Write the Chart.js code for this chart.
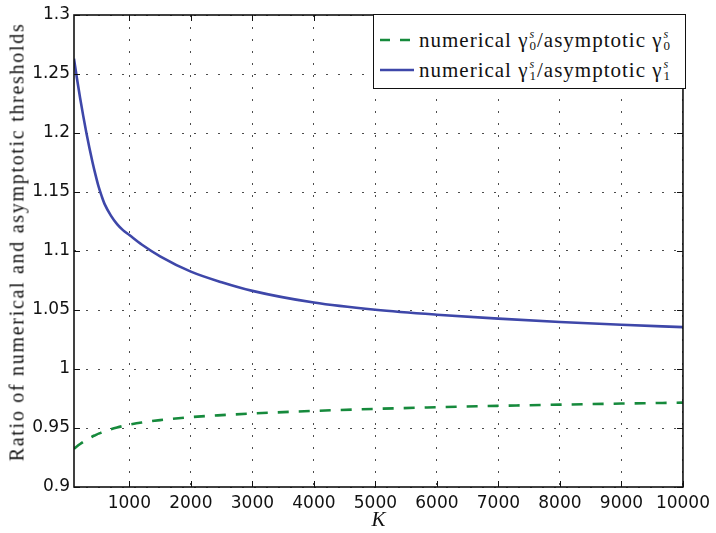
<!DOCTYPE html>
<html>
<head>
<meta charset="utf-8">
<script src="https://cdn.jsdelivr.net/npm/chart.js@4.4.1/dist/chart.umd.min.js"></script>
<style>
  html, body { margin: 0; padding: 0; background: #fff; }
  #wrap { position: relative; width: 716px; height: 533px; }
  .serif { font-family: "Liberation Serif", "Times New Roman", Times, "DejaVu Serif", serif; }
  #yTitle {
    position: absolute;
    left: 17px; top: 242px;
    transform: translate(-50%, -50%) rotate(-90deg);
    white-space: nowrap;
    font-size: 20px;
    letter-spacing: 1.7px;
    color: #111;
  }
  #legend {
    position: absolute;
    left: 373px; top: 14px;
    width: 311px; height: 73px;
    border: 1.5px solid #111;
    background: #fff;
    font-size: 21px;
    letter-spacing: 1px;
    color: #111;
  }
  .row { position: absolute; left: 6px; height: 26px; display: flex; align-items: center; white-space: nowrap; }
  .row svg { margin-right: 5px; }
  .g { font-size: 21px; }
  .ss { display: inline-flex; flex-direction: column; line-height: 11px; font-size: 13px; margin: 0 1px 0 1px; letter-spacing: 0; }
  .ss i { font-size: 12px; }
</style>
</head>
<body>
<div id="wrap">
  <canvas id="ratioChart" width="716" height="533"></canvas>
  <div id="yTitle" class="serif">Ratio of numerical and asymptotic thresholds</div>
  <div id="legend" class="serif">
    <div class="row" style="top:12px;">
      <svg width="34" height="6"><line x1="0" y1="3" x2="34" y2="3" stroke="#168a3c" stroke-width="2.6" stroke-dasharray="10 10"/></svg>
      numerical&nbsp;<span class="g">γ</span><span class="ss"><i>s</i>0</span>/asymptotic&nbsp;<span class="g">γ</span><span class="ss"><i>s</i>0</span>
    </div>
    <div class="row" style="top:42px;">
      <svg width="34" height="6"><line x1="0" y1="3" x2="34" y2="3" stroke="#3e47a9" stroke-width="2.6"/></svg>
      numerical&nbsp;<span class="g">γ</span><span class="ss"><i>s</i>1</span>/asymptotic&nbsp;<span class="g">γ</span><span class="ss"><i>s</i>1</span>
    </div>
  </div>
</div>
<script>
// ----------------------------------------
// data: ratio of numerical / asymptotic thresholds vs K
// ----------------------------------------
const kValues = [100, 150, 200, 250, 300, 350, 400, 450, 500, 550, 600, 700, 800, 900, 1000,
  1200, 1500, 2000, 2500, 3000, 4000, 5000, 6000, 7000, 8000, 9000, 10000];
const ratioGamma0 = [0.9325, 0.9345, 0.9364, 0.9382, 0.9398, 0.9413, 0.9428, 0.9440, 0.9452, 0.9462,
  0.9472, 0.9489, 0.9504, 0.9517, 0.9528, 0.9546, 0.9567, 0.9592, 0.9609, 0.9623, 0.9645, 0.9662,
  0.9676, 0.9688, 0.9698, 0.9707, 0.9715];
const ratioGamma1 = [1.263, 1.2455, 1.2295, 1.2145, 1.2005, 1.1875, 1.1755, 1.1645, 1.1545, 1.1465,
  1.1395, 1.130, 1.1228, 1.1175, 1.1135, 1.1055, 1.0955, 1.0825, 1.0735, 1.0662, 1.0563, 1.0502,
  1.046, 1.0427, 1.0398, 1.0375, 1.0355];
const xTicks = [1000, 2000, 3000, 4000, 5000, 6000, 7000, 8000, 9000, 10000];
const yTicks = [0.9, 0.95, 1, 1.05, 1.1, 1.15, 1.2, 1.25, 1.3];

const toPoints = ys => kValues.map((k, i) => ({ x: k, y: ys[i] }));

// MATLAB-style box with inward tick marks
const boxPlugin = {
  id: 'axesBox',
  afterDatasetsDraw(chart) {
    const { ctx, chartArea: a, scales: { x, y } } = chart;
    const len = 6;
    ctx.save();
    ctx.strokeStyle = '#111';
    ctx.lineWidth = 1;
    ctx.beginPath();
    x.ticks.forEach(t => {
      const px = Math.round(x.getPixelForValue(t.value)) + 0.5;
      ctx.moveTo(px, a.bottom); ctx.lineTo(px, a.bottom - len);
      ctx.moveTo(px, a.top); ctx.lineTo(px, a.top + len);
    });
    y.ticks.forEach(t => {
      const py = Math.round(y.getPixelForValue(t.value)) + 0.5;
      ctx.moveTo(a.left, py); ctx.lineTo(a.left + len, py);
      ctx.moveTo(a.right, py); ctx.lineTo(a.right - len, py);
    });
    ctx.stroke();
    ctx.lineWidth = 1.6;
    ctx.strokeRect(a.left, a.top, a.right - a.left, a.bottom - a.top);
    ctx.restore();
  },
};

const dotGrid = { color: 'rgba(0,0,0,0.7)', lineWidth: 1, drawTicks: false };
const tickFont = { family: '"DejaVu Sans", sans-serif', size: 17 };

new Chart(document.getElementById('ratioChart'), {
  type: 'line',
  data: {
    datasets: [
      {
        label: 'numerical γ0s/asymptotic γ0s',
        data: toPoints(ratioGamma0),
        borderColor: '#168a3c',
        borderWidth: 2.6,
        borderDash: [11, 10],
        pointRadius: 0,
        cubicInterpolationMode: 'monotone',
        fill: false,
      },
      {
        label: 'numerical γ1s/asymptotic γ1s',
        data: toPoints(ratioGamma1),
        borderColor: '#3e47a9',
        borderWidth: 2.6,
        pointRadius: 0,
        cubicInterpolationMode: 'monotone',
        fill: false,
      },
    ],
  },
  options: {
    responsive: false,
    animation: false,
    layout: { padding: { top: 15, right: 30, left: 0, bottom: 0 } },
    plugins: { legend: { display: false }, tooltip: { enabled: false } },
    scales: {
      x: {
        type: 'linear',
        min: 100,
        max: 10000,
        afterBuildTicks: s => { s.ticks = xTicks.map(v => ({ value: v })); },
        afterFit: s => { s.height = 46; },
        grid: dotGrid,
        border: { display: false, dash: [2, 10] },
        ticks: {
          color: '#111',
          font: tickFont,
          padding: 6,
          maxRotation: 0,
          autoSkip: false,
          callback: v => String(v),
        },
        title: {
          display: true,
          text: 'K',
          color: '#111',
          padding: 0,
          font: { family: '"Liberation Serif", "DejaVu Serif", serif', size: 21, style: 'italic' },
        },
      },
      y: {
        min: 0.9,
        max: 1.3,
        afterBuildTicks: s => { s.ticks = yTicks.map(v => ({ value: v })); },
        afterFit: s => { s.width = 74; },
        grid: dotGrid,
        border: { display: false, dash: [2, 10] },
        ticks: {
          color: '#111',
          font: tickFont,
          padding: 4,
          callback: v => String(+v.toFixed(2)),
        },
      },
    },
  },
  plugins: [boxPlugin],
});
</script>
</body>
</html>
